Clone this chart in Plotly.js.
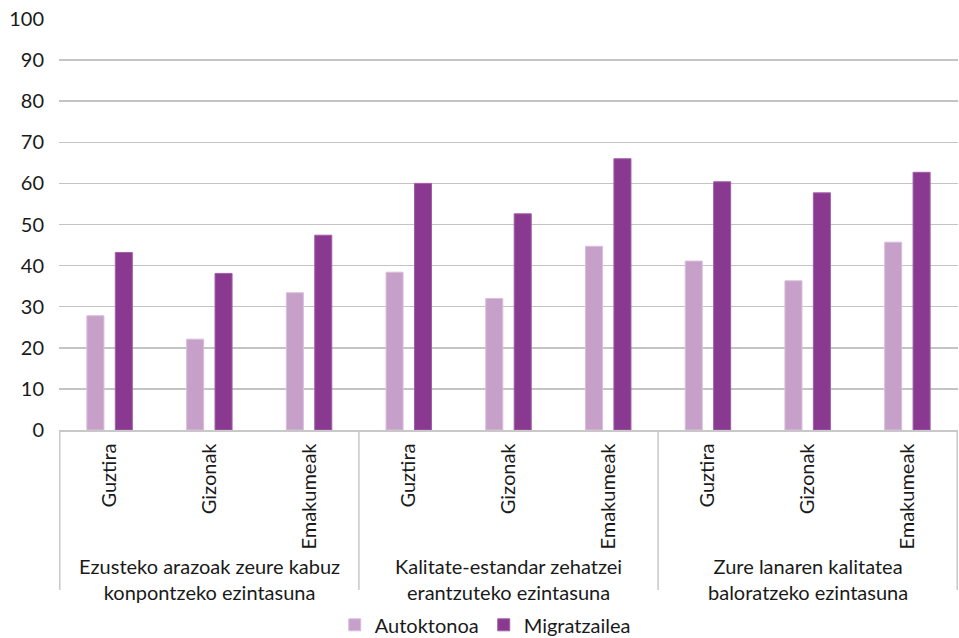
<!DOCTYPE html>
<html>
<head>
<meta charset="utf-8">
<script src="https://cdn.plot.ly/plotly-3.0.1.min.js"></script>
<style>html,body{margin:0;padding:0;background:#fff;}#chart{width:959px;height:638px;}</style>
</head>
<body>
<div id="chart"></div>
<script>
const groups = [
  "Ezusteko arazoak zeure kabuz<br>konpontzeko ezintasuna",
  "Kalitate-estandar zehatzei<br>erantzuteko ezintasuna",
  "Zure lanaren kalitatea<br>baloratzeko ezintasuna"
];
const subgroups = ["Guztira", "Gizonak", "Emakumeak"];
const autoktonoa = [27.8, 22.1, 33.4, 38.4, 32.0, 44.7, 41.1, 36.3, 45.7];
const migratzailea = [43.2, 38.1, 47.4, 60.0, 52.6, 66.0, 60.4, 57.7, 62.7];
const seriesNames = ["Autoktonoa", "Migratzailea"];

const xs = [], ticktext = [];
groups.forEach((g, gi) => subgroups.forEach(s => { xs.push(gi + "|" + s); ticktext.push(s); }));

const font = "Lato, 'Open Sans', sans-serif";
const gridC = "#C8C8C8";
const data = [
  {type: "bar", name: seriesNames[0], x: xs, y: autoktonoa,
   marker: {color: "#C6A0C9", line: {color: "#D9BEDB", width: 1}}},
  {type: "bar", name: seriesNames[1], x: xs, y: migratzailea,
   marker: {color: "#8A3990", line: {color: "#A060A6", width: 1}}}
];

const n = subgroups.length;
const shapes = [];
for (let i = 0; i <= groups.length; i++) {
  shapes.push({type: "line", xref: "x", yref: "paper", x0: i * n - 0.5, x1: i * n - 0.5,
               y0: 0, y1: -0.389, line: {color: gridC, width: 1.5}});
}
const annotations = groups.map((g, gi) => ({
  xref: "x", yref: "paper", x: gi + "|" + subgroups[Math.floor(n / 2)], y: -0.297,
  xanchor: "center", yanchor: "top", text: g, showarrow: false,
  font: {family: font, size: 20, color: "#1a1a1a"}
}));

const layout = {
  width: 959, height: 638,
  margin: {l: 59, r: 1, t: 19, b: 208, autoexpand: false},
  paper_bgcolor: "#fff", plot_bgcolor: "#fff",
  font: {family: font, size: 20, color: "#1a1a1a"},
  barmode: "group", bargap: 0.43, bargroupgap: 0.4,
  showlegend: true,
  legend: {orientation: "h", xref: "container", yref: "paper", x: 0.506, xanchor: "center",
           y: -0.474, yanchor: "middle", font: {family: font, size: 20}, itemwidth: 30, tracegroupgap: 0},
  shapes: shapes,
  annotations: annotations,
  xaxis: {type: "category", tickmode: "array", tickvals: xs, ticktext: ticktext,
          tickangle: -90, showline: true, linecolor: gridC, linewidth: 1.5, automargin: false,
          showgrid: false, ticks: "", ticklabelstandoff: 4, tickfont: {family: font, size: 20}},
  yaxis: {range: [0, 100], dtick: 10, showgrid: true, gridcolor: "#C4C4C4", gridwidth: 1.5,
          zeroline: false, ticks: "", ticklabelstandoff: 14, automargin: false,
          tickfont: {family: font, size: 20}}
};
Plotly.newPlot("chart", data, layout, {displayModeBar: false, staticPlot: true});
</script>
</body>
</html>
